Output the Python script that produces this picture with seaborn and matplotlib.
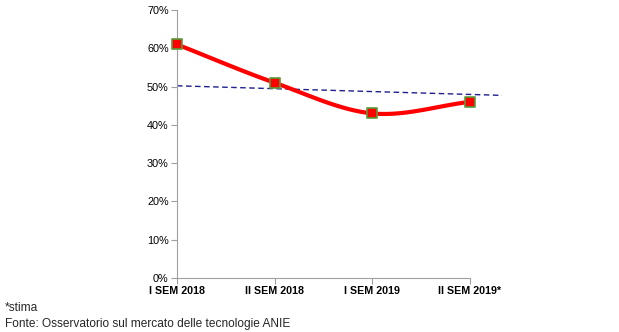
import numpy as np
import pandas as pd
import matplotlib
matplotlib.use("Agg")
import matplotlib.pyplot as plt
import seaborn as sns

# Semester labels and share values (%)
categories = ["I SEM 2018", "II SEM 2018", "I SEM 2019", "II SEM 2019*"]
values = [61, 51, 43, 46]
# Dashed reference line: start and end values over the extended range
trend_x = [0, 3.33]
trend_y = [50.2, 47.7]
yticks = [0, 10, 20, 30, 40, 50, 60, 70]

sns.set_theme(style="white")
plt.rcParams["font.family"] = ["Liberation Sans", "DejaVu Sans"]

fig = plt.figure(figsize=(6.19, 3.32), dpi=100)
ax = fig.add_axes([177 / 619, 1 - 278 / 332, (502 - 177) / 619, (278 - 10) / 332])

x = np.arange(len(values))
df = pd.DataFrame({"x": x, "y": values})


def catmull_rom(px, py, n=40):
    px = np.asarray(px, float)
    py = np.asarray(py, float)
    P = np.column_stack([px, py])
    P = np.vstack([2 * P[0] - P[1], P, 2 * P[-1] - P[-2]])
    out = []
    for i in range(1, len(P) - 2):
        p0, p1, p2, p3 = P[i - 1], P[i], P[i + 1], P[i + 2]
        t = np.linspace(0, 1, n)[:, None]
        pts = 0.5 * ((2 * p1) + (-p0 + p2) * t + (2 * p0 - 5 * p1 + 4 * p2 - p3) * t ** 2
                     + (-p0 + 3 * p1 - 3 * p2 + p3) * t ** 3)
        out.append(pts if i == 1 else pts[1:])
    out = np.vstack(out)
    return out[:, 0], out[:, 1]


sx, sy = catmull_rom(x, values)
smooth = pd.DataFrame({"x": sx, "y": sy})

sns.lineplot(data=pd.DataFrame({"x": trend_x, "y": trend_y}), x="x", y="y", ax=ax,
             color="#1f1f8f", linestyle=(0, (4, 2.5)), linewidth=1.0, zorder=2)
sns.lineplot(data=smooth, x="x", y="y", ax=ax, color="#ff0000", linewidth=3, sort=False,
             zorder=3, clip_on=False)
sns.scatterplot(data=df, x="x", y="y", ax=ax, marker="s", s=50, color="#ff0000",
                edgecolor="#5a9a3a", linewidth=1.2, zorder=4, clip_on=False)

ax.set_xlim(0, 3.33)
ax.set_ylim(0, 70)
ax.set_yticks(yticks)
ax.set_yticklabels([f"{v}%" for v in yticks], fontsize=7.8, color="#000000")
ax.set_xticks(x)
ax.set_xticklabels(categories, fontsize=7.7, fontweight="bold", color="#000000")
ax.set_xlabel("")
ax.set_ylabel("")

for s in ["top", "right"]:
    ax.spines[s].set_visible(False)
for s in ["left", "bottom"]:
    ax.spines[s].set_color("#a0a0a0")
    ax.spines[s].set_linewidth(0.8)
ax.spines["bottom"].set_bounds(0, 3)
ax.tick_params(axis="both", which="both", length=4, width=0.8, color="#a0a0a0", pad=2,
               direction="out", bottom=True, left=True)
ax.grid(False)

fig.text(5 / 619, 1 - 308 / 332, "*stima", fontsize=8.6, va="center", ha="left")
fig.text(5 / 619, 1 - 324 / 332, "Fonte: Osservatorio sul mercato delle tecnologie ANIE",
         fontsize=8.6, va="center", ha="left")

fig.savefig("out.png", dpi=100)
